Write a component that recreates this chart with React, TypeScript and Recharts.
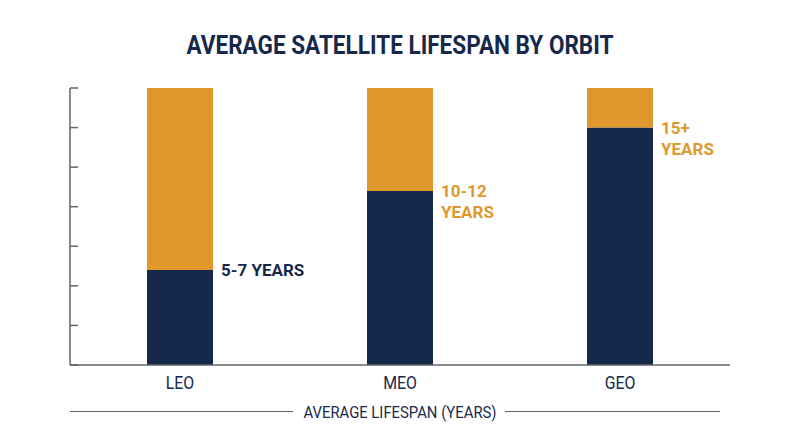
import { Bar, BarChart, LabelList, XAxis, YAxis } from "recharts";

const orbits = ["LEO", "MEO", "GEO"];
const lifespanYears = [6, 11, 15];
const headroomYears = [11.5, 6.5, 2.5];
const rangeLabels = [["5-7 YEARS"], ["10-12", "YEARS"], ["15+", "YEARS"]];
const yTicks = [0, 2.5, 5, 7.5, 10, 12.5, 15, 17.5];

const NAVY = "#17294a";
const ORANGE = "#e0982c";
const AXIS = "#60656f";
const FONT = "Roboto, sans-serif";

const data = orbits.map((orbit, i) => ({
  orbit,
  lifespan: lifespanYears[i],
  headroom: headroomYears[i],
}));

// y ticks carry no text, only the tick marks
function NoTickText() {
  return <g />;
}

function OrbitTick(props: any) {
  const { x, y, payload } = props;
  return (
    <g transform={`translate(${x},${Number(y) + 17.5}) scale(0.88,1)`}>
      <text textAnchor="middle" dominantBaseline="central" fill={NAVY} fontFamily={FONT} fontSize={18}>
        {payload.value}
      </text>
    </g>
  );
}

function RangeLabel(props: any) {
  const { x, y, width, value } = props;
  const i = orbits.indexOf(value);
  const lines = rangeLabels[i] || [];
  const color = lines.length === 1 ? NAVY : ORANGE;
  const tx = Number(x) + Number(width) + 8;
  return (
    <text x={tx} y={Number(y)} fill={color} fontFamily={FONT} fontWeight={700} fontSize={17} dominantBaseline="central">
      {lines.map((line, k) => (
        <tspan key={k} x={tx} dy={k === 0 ? 0 : 21.5}>
          {line}
        </tspan>
      ))}
    </text>
  );
}

function AxisTitle(props: any) {
  const { x, y, width } = props.viewBox;
  const cy = y + 46.5;
  const cx = x + width / 2;
  return (
    <g>
      <line x1={x} x2={cx - 107} y1={cy} y2={cy} stroke={AXIS} strokeWidth={1} />
      <line x1={cx + 105} x2={x + width - 10} y1={cy} y2={cy} stroke={AXIS} strokeWidth={1} />
      <text x={cx} y={cy} textAnchor="middle" dominantBaseline="central" fill={NAVY} fontFamily={FONT} fontSize={17} textLength={193} lengthAdjust="spacingAndGlyphs">
        AVERAGE LIFESPAN (YEARS)
      </text>
    </g>
  );
}

export default function App() {
  return (
    <div style={{ position: "absolute", left: 0, top: 0, width: 800, height: 447, background: "#fff" }}>
      <svg width={800} height={70} style={{ position: "absolute", left: 0, top: 0 }}>
        <text x={400} y={45} textAnchor="middle" dominantBaseline="central" fill={NAVY} fontFamily={FONT} fontWeight={700} fontSize={25} textLength={427} lengthAdjust="spacingAndGlyphs">
          AVERAGE SATELLITE LIFESPAN BY ORBIT
        </text>
      </svg>
      <BarChart width={800} height={447} data={data} margin={{ top: 88, right: 70, left: 70, bottom: 52 }}>
        <YAxis
          domain={[0, 17.5]}
          ticks={yTicks}
          tick={<NoTickText />}
          mirror
          tickSize={8}
          width={70}
          axisLine={{ stroke: AXIS, strokeWidth: 1.5 }}
          tickLine={{ stroke: AXIS, strokeWidth: 1.5 }}
        />
        <XAxis
          dataKey="orbit"
          height={30}
          tickSize={0}
          tickMargin={0}
          tickLine={false}
          axisLine={{ stroke: AXIS, strokeWidth: 1.5 }}
          tick={<OrbitTick />}
          label={{ content: <AxisTitle /> }}
        />
        <Bar dataKey="lifespan" stackId="a" fill={NAVY} barSize={66} isAnimationActive={false}>
          <LabelList dataKey="orbit" content={<RangeLabel />} />
        </Bar>
        <Bar dataKey="headroom" stackId="a" fill={ORANGE} barSize={66} isAnimationActive={false} />
      </BarChart>
    </div>
  );
}
